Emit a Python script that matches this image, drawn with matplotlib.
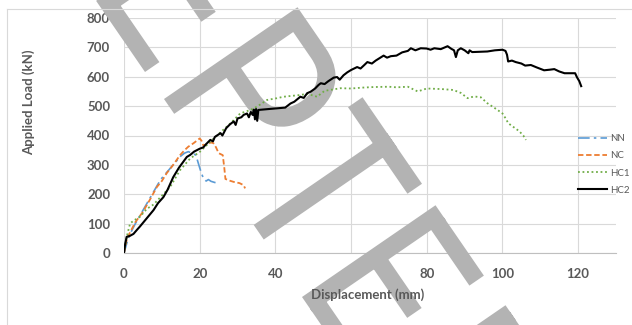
import numpy as np
import matplotlib
matplotlib.use('Agg')
import matplotlib.pyplot as plt
from matplotlib.textpath import TextPath
from matplotlib.patches import PathPatch
from matplotlib.font_manager import FontProperties
from matplotlib.transforms import Affine2D, IdentityTransform
from matplotlib.lines import Line2D

# ---- data (displacement mm, load kN) ----
nn_x = [0, 1, 2, 3, 5, 7, 9, 10, 12, 14, 15, 16, 17, 18, 18.8, 19.3, 20, 20.5, 21, 21.7, 22.3, 23, 24, 25]
nn_y = [0, 45, 75, 100, 145, 190, 235, 255, 285, 315, 330, 340, 345, 340, 335, 320, 290, 270, 254, 245, 250, 244, 240, 238]

nc_x = [0, 0.8, 2, 3, 5, 7, 8.7, 10, 11.3, 13, 14.8, 16, 17, 18.4, 19.5, 20, 20.5, 21, 22, 23, 23.6,
        24.3, 25, 26.1, 26.5, 26.8, 28, 29, 30.5, 31.6, 32]
nc_y = [0, 50, 80, 105, 140, 185, 225, 245, 272, 300, 333, 350, 362, 374, 385, 390, 382, 365, 372, 376, 374,
        360, 340, 333, 290, 252, 246, 242, 238, 231, 220]

hc1_x = [0, 0.5, 1, 1.6, 2.5, 4.2, 6, 7.8, 10, 12.2, 14.8, 17.5, 20, 22.8, 25, 28.1, 30.7, 33.4, 35.1,
         37.8, 40.4, 42.2, 46.6, 48.4, 51, 53, 57.2, 60, 63, 66, 70, 72, 75, 77.6, 80, 84, 87, 89,
         90.8, 92.5, 94.3, 96, 98.7, 100, 101, 101.5, 103, 104.4, 105.5, 106.2]
hc1_y = [0, 40, 70, 100, 110, 123, 150, 165, 195, 225, 282, 322, 344, 379, 405, 441, 475, 487, 498,
         521, 527, 532, 538, 542, 532, 552, 561, 560, 563, 565, 566, 564, 566, 550, 560, 558, 555, 545,
         527, 533, 530, 510, 487, 475, 455, 442, 428, 415, 400, 385]

hc2_x = [0, 0.3, 0.7, 1.5, 2.5, 3.5, 4.2, 6, 7.8, 9, 10.4, 11.5, 13, 14.5, 16.6, 17.5, 18.5, 20, 21, 21.5,
         22.8, 23.5, 24, 25.5, 26, 27, 28, 29, 29.5, 30, 31, 31.6, 32.5, 33, 33.5, 34, 34.3, 34.6, 34.9,
         35.2, 35.5, 42.6, 44, 45, 46.6, 47.5, 48.4, 49.3, 50.5, 51.4, 52, 53, 54, 55.4, 56.3, 57, 58,
         59, 60, 61.6, 62.5, 63.5, 64.3, 65.5, 66.5, 68.6, 69.5, 70.5, 72, 73.5, 75, 75.8, 77, 78.4,
         80, 81, 82, 83.7, 85.5, 86.5, 87.2, 87.7, 88.2, 89, 90, 91, 91.3, 92, 94, 96, 98, 100,
         100.8, 101.2, 101.5, 102.5, 103.5, 105, 106, 107.5, 109, 111, 112.5, 113.7, 115, 116.4,
         118, 119.2, 119.7, 120.3, 120.8]
hc2_y = [0, 30, 55, 58, 65, 80, 90, 118, 146, 170, 190, 215, 258, 290, 327, 334, 345, 355, 360, 368,
         385, 380, 395, 408, 400, 425, 438, 448, 436, 458, 462, 470, 475, 462, 480, 470, 488, 455, 490,
         450, 487, 495, 509, 515, 532, 528, 544, 549, 560, 572, 578, 575, 585, 597, 599, 590, 605,
         615, 623, 633, 628, 640, 650, 645, 655, 672, 665, 670, 672, 683, 688, 697, 690, 697,
         696, 692, 697, 694, 704, 695, 690, 667, 690, 697, 690, 680, 690, 684, 685, 686, 690, 692,
         688, 675, 652, 655, 650, 645, 638, 640, 632, 622, 624, 626, 618, 612,
         612, 612, 598, 585, 568]

x_ticks = [0, 20, 40, 60, 80, 100, 120]
y_ticks = [0, 100, 200, 300, 400, 500, 600, 700, 800]
series_names = ['NN', 'NC', 'HC1', 'HC2']

# watermark letters: (letter, baseline anchor in image pixels, which ink edge the anchor is)
wm_letters = ['E', 'P', 'T', 'E', 'D']
wm_points = [(145, 72), (164, 99), (229, 189), (302, 297), (372, 397)]
wm_anchor = ['right', 'left', 'left', 'left', 'left']

W, H = 632, 325
TXT = '#595959'
ANG = -55.5

fig = plt.figure(figsize=(W / 100, H / 100), dpi=100)
ax = fig.add_axes([124 / W, 1 - 253 / H, (616 - 124) / W, (253 - 18) / H])

ax.plot(nn_x, nn_y, color='#5b9bd5', lw=1.2, ls=(0, (7, 2.5, 1.5, 2.5)), zorder=2)
ax.plot(nc_x, nc_y, color='#ed7d31', lw=1.3, ls=(0, (3, 1.5)), zorder=2)
ax.plot(hc1_x, hc1_y, color='#70ad47', lw=1.3, ls=(0, (1, 1.5)), zorder=2)
ax.plot(hc2_x, hc2_y, color='black', lw=1.5, zorder=2)

ax.set_xlim(0, 130)
ax.set_ylim(0, 800)
ax.set_xticks(x_ticks)
ax.set_yticks(y_ticks)
ax.set_axisbelow(True)
ax.grid(color='#d9d9d9', lw=0.8)
for s in ['top', 'right', 'left']:
    ax.spines[s].set_visible(False)
ax.spines['bottom'].set_color('#bfbfbf')
ax.spines['bottom'].set_zorder(0.6)
ax.tick_params(length=0, colors=TXT, labelsize=9.5)
ax.tick_params(axis='y', pad=10)
ax.tick_params(axis='x', pad=11)
for lab in ax.get_xticklabels() + ax.get_yticklabels():
    lab.set_fontfamily('Lato')
    lab.set_fontweight('bold')

# watermark (condensed sans, cap height ~162 px, T about 105 px wide)
fp = FontProperties(family='Roboto')
ref = TextPath((0, 0), 'E', size=100, prop=fp).get_extents()
size = 100 * 162 / ref.height
sx = 105 / TextPath((0, 0), 'T', size=size, prop=fp).get_extents().width
ux, uy = np.cos(np.deg2rad(-ANG)), np.sin(np.deg2rad(-ANG))
for ch, (px, py), side in zip(wm_letters, wm_points, wm_anchor):
    tp = TextPath((0, 0), ch, size=size, prop=fp)
    ext = tp.get_extents()
    if side == 'right':
        wpx = ext.width * sx
        px, py = px - wpx * ux, py - wpx * uy
    tr = (Affine2D().translate(-ext.x0, 0).scale(sx, 1)
          .rotate_deg(ANG).translate(px, H - py))
    patch = PathPatch(tp, transform=tr + IdentityTransform(), facecolor='#b3b3b3',
                      edgecolor='none', zorder=1, clip_on=False)
    ax.add_artist(patch)

fig.text(29 / W, 1 - 102 / H, 'Applied Load (kN)', rotation=90, ha='center', va='center',
         color=TXT, fontsize=9.5, fontweight='bold', family='Lato')
fig.text(368 / W, 1 - 295 / H, 'Displacement (mm)', ha='center', va='center',
         color=TXT, fontsize=9.5, fontweight='bold', family='Lato')

leg = ax.legend(series_names, loc='upper left', bbox_to_anchor=(578 / W, 1 - 134 / H),
                bbox_transform=fig.transFigure, frameon=False, fontsize=7,
                handlelength=3.0, handletextpad=0.3, labelspacing=0.85, borderpad=0,
                borderaxespad=0)
for t in leg.get_texts():
    t.set_color(TXT)
    t.set_fontfamily('Lato')

# chart area border (top and left edges visible)
fig.add_artist(Line2D([7 / W, 1], [1 - 9 / H, 1 - 9 / H], transform=fig.transFigure,
                      color='#d9d9d9', lw=0.8))
fig.add_artist(Line2D([7 / W, 7 / W], [0, 1 - 9 / H], transform=fig.transFigure,
                      color='#d9d9d9', lw=0.8))

fig.savefig('out.png', dpi=100)
